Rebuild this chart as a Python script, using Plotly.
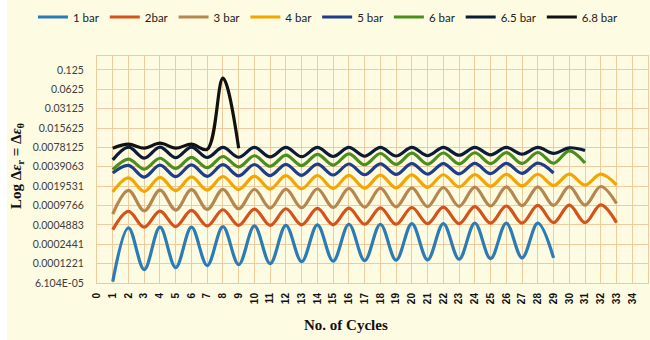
import plotly.graph_objects as go
import math

# ---------------- data ----------------
cycles_29 = list(range(1, 30))
cycles_31 = list(range(1, 32))
cycles_33 = list(range(1, 34))
cycles_9 = list(range(1, 10))

bar_1 = [6.4e-5, 0.00044, 0.0000987, 0.00045, 0.000106, 0.00045, 0.000114, 0.00046, 0.000118,
         0.00047, 0.000122, 0.00048, 0.000131, 0.00049, 0.000133, 0.00050, 0.000136, 0.00050,
         0.000138, 0.00051, 0.00014, 0.00051, 0.000143, 0.00052, 0.000146, 0.00052, 0.00015,
         0.00052, 0.00015]
bar_2 = [0.00041, 0.00079, 0.00045, 0.00080, 0.00046, 0.00082, 0.00047, 0.00084, 0.00048,
         0.00086, 0.00048, 0.00087, 0.00049, 0.00088, 0.00049, 0.00089, 0.00050, 0.00090,
         0.00050, 0.00091, 0.00051, 0.00092, 0.00051, 0.00094, 0.00052, 0.00096, 0.00052,
         0.00098, 0.00053, 0.00099, 0.00053, 0.00100, 0.00053]
bar_3 = [0.00072, 0.00168, 0.00081, 0.00170, 0.00083, 0.00172, 0.00085, 0.00174, 0.00087,
         0.00175, 0.00089, 0.00176, 0.00090, 0.00178, 0.00091, 0.00180, 0.00092, 0.00182,
         0.00093, 0.00184, 0.00094, 0.00186, 0.00095, 0.00188, 0.00096, 0.00190, 0.00097,
         0.00191, 0.00098, 0.00192, 0.00099, 0.00193, 0.00105]
bar_4 = [0.00159, 0.00262, 0.00162, 0.00268, 0.00166, 0.00272, 0.00170, 0.00276, 0.00173,
         0.00280, 0.00176, 0.00284, 0.00178, 0.00286, 0.00180, 0.00288, 0.00182, 0.00290,
         0.00184, 0.00292, 0.00187, 0.00294, 0.00190, 0.00296, 0.00194, 0.00298, 0.00197,
         0.00299, 0.00200, 0.00300, 0.00203, 0.00300, 0.00205]
bar_5 = [0.00313, 0.00410, 0.00270, 0.00414, 0.00274, 0.00418, 0.00278, 0.00421, 0.00282,
         0.00424, 0.00285, 0.00427, 0.00288, 0.00430, 0.00291, 0.00432, 0.00294, 0.00434,
         0.00297, 0.00436, 0.00300, 0.00438, 0.00303, 0.00440, 0.00306, 0.00442, 0.00309,
         0.00445, 0.00313]
bar_6 = [0.00352, 0.00515, 0.00359, 0.00530, 0.00368, 0.00548, 0.00378, 0.00565, 0.00388,
         0.00580, 0.00398, 0.00595, 0.00408, 0.00610, 0.00415, 0.00620, 0.00420, 0.00628,
         0.00425, 0.00635, 0.00430, 0.00640, 0.00434, 0.00645, 0.00437, 0.00648, 0.00440,
         0.00651, 0.00443, 0.00690, 0.00446]
bar_6_5 = [0.0050, 0.0079, 0.00533, 0.0079, 0.00540, 0.0079, 0.00545, 0.0078, 0.00550,
           0.0078, 0.00555, 0.0078, 0.00560, 0.0078, 0.00565, 0.0078, 0.00570, 0.0078,
           0.00575, 0.0078, 0.00580, 0.0078, 0.00590, 0.0078, 0.00600, 0.0078, 0.00615,
           0.0078, 0.00630, 0.0077, 0.00700]
bar_6_8 = [0.0076, 0.0088, 0.0076, 0.0091, 0.0076, 0.0088, 0.0073, 0.093, 0.0076]

series_names = ["1 bar", "2bar", "3 bar", "4 bar", "5 bar", "6 bar", "6.5 bar", "6.8 bar"]
series_x = [cycles_29, cycles_33, cycles_33, cycles_33, cycles_29, cycles_31, cycles_31, cycles_9]
series_y = [bar_1, bar_2, bar_3, bar_4, bar_5, bar_6, bar_6_5, bar_6_8]
series_colors = ["#2b7bb5", "#d4521c", "#b5874e", "#f5a500", "#1f3d8a", "#4b8e1e", "#0c1b36", "#111111"]

y_tick_vals = [2 ** -k for k in range(3, 15)]
y_tick_text = ["0.125", "0.0625", "0.03125", "0.015625", "0.0078125", "0.0039063",
               "0.0019531", "0.0009766", "0.0004883", "0.0002441", "0.0001221", "6.104E-05"]
x_tick_vals = list(range(0, 36))

# ---------------- figure ----------------
BG = "#fdfbe1"
GRID = "#f0cb9e"

fig = go.Figure()
for name, xs, ys, col in zip(series_names, series_x, series_y, series_colors):
    fig.add_trace(go.Scatter(
        x=xs, y=ys, name=name, mode="lines",
        line=dict(color=col, width=3.2, shape="spline", smoothing=1.0),
    ))

W, H = 650, 340
L, R, T, B = 97, 2, 56, 57
pw = W - L - R
ph = H - T - B

fig.update_layout(
    width=W, height=H,
    margin=dict(l=L, r=R, t=T, b=B, autoexpand=False),
    paper_bgcolor=BG, plot_bgcolor=BG,
    showlegend=True,
    legend=dict(
        orientation="h", x=(33 - L) / pw, xanchor="left", y=1 + (T - 17) / ph,
        yanchor="middle", bgcolor="rgba(0,0,0,0)",
        font=dict(family="Lato", size=11.5, color="#222222"),
        itemwidth=30, tracegroupgap=0,
    ),
    xaxis=dict(
        range=[0, 35], tickmode="array", tickvals=x_tick_vals,
        ticktext=[f"<b>{v}</b>" for v in x_tick_vals], tickangle=-90,
        tickfont=dict(family="Liberation Sans", size=10, color="#111111"),
        showgrid=True, gridcolor=GRID, gridwidth=1, zeroline=False,
        showline=True, linecolor=GRID, linewidth=1, mirror=True,
        ticks="", ticklabelstandoff=5,
    ),
    yaxis=dict(
        type="log",
        range=[math.log10(2 ** -14), math.log10(2 ** -2.28)],
        tickmode="array", tickvals=y_tick_vals, ticktext=y_tick_text,
        tickfont=dict(family="Lato", size=10.5, color="#404040"),
        showgrid=True, gridcolor=GRID, gridwidth=1, zeroline=False,
        showline=True, linecolor=GRID, linewidth=1, mirror=True,
        ticks="", ticklabelstandoff=10,
    ),
    shapes=[dict(type="rect", xref="paper", yref="paper",
                 x0=-L / pw, x1=(7 - L) / pw, y0=-B / ph, y1=1 + T / ph,
                 fillcolor="white", line=dict(width=0), layer="below")],
    annotations=[
        dict(text="<b>Log Δ<i>ε</i><sub>r</sub> = Δ<i>ε</i><sub>θ</sub></b>",
             xref="paper", yref="paper", x=(17 - L) / pw, y=1 - (166 - T) / ph,
             xanchor="center", yanchor="middle", textangle=-90, showarrow=False,
             font=dict(family="Liberation Serif", size=15, color="#111111")),
        dict(text="<b>No. of Cycles</b>",
             xref="paper", yref="paper", x=(346 - L) / pw, y=-(325 - (H - B)) / ph,
             xanchor="center", yanchor="middle", showarrow=False,
             font=dict(family="Liberation Serif", size=15, color="#111111")),
    ],
)

fig.write_html("out.html")
